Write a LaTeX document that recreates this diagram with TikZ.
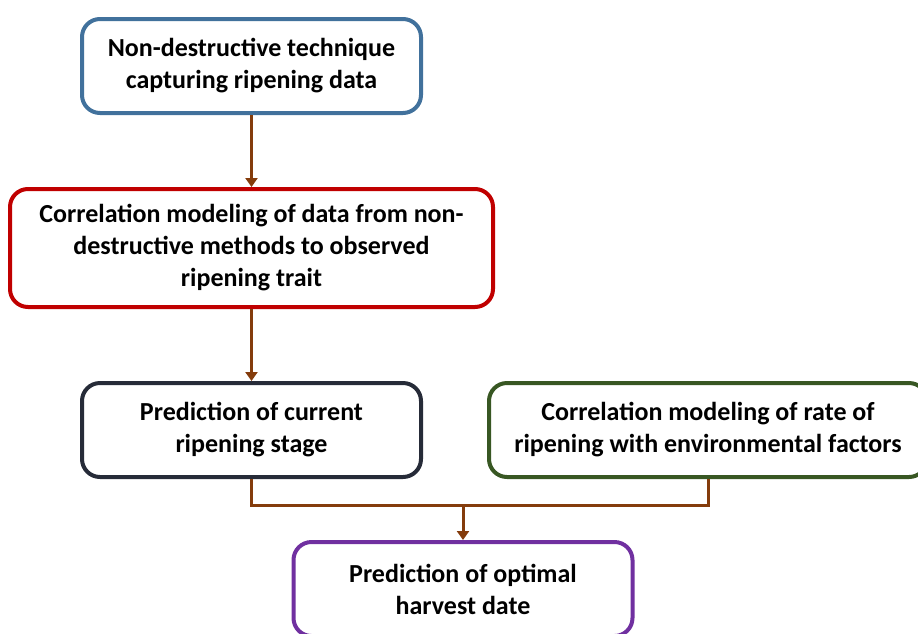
\documentclass[tikz,border=0pt]{standalone}
\usepackage{fontspec}
\setmainfont{Carlito}
\usetikzlibrary{positioning, arrows.meta}
\definecolor{senseblue}{RGB}{65,113,156}
\definecolor{modelred}{RGB}{192,0,0}
\definecolor{stagegray}{RGB}{38,43,56}
\definecolor{envgreen}{RGB}{56,87,35}
\definecolor{harvpurple}{RGB}{112,48,160}
\definecolor{linkbrown}{RGB}{132,60,12}
\tikzset{
    >={Triangle[width=12pt,length=9pt]}, % filled arrow heads
    stage/.style={draw, rounded corners=18pt, line width=4pt, fill=white, align=center,
        inner sep=0pt, minimum width=339pt, minimum height=94pt,
        font=\bfseries\fontsize{26}{32}\selectfont},
    link/.style={draw=linkbrown, line width=3pt}
}

\begin{document}
\begin{tikzpicture}[node distance=72pt]
    \useasboundingbox (0,0) rectangle (918pt,-633pt);
    \node[stage, draw=senseblue] (sense) at (251.5pt,-66pt) {Non-destructive technique\\capturing ripening data};
    \node[stage, draw=modelred, minimum width=483pt, minimum height=118pt, below=of sense] (model) {Correlation modeling of data from non-\\destructive methods to observed\\ripening trait};
    \node[stage, draw=stagegray, below=of model] (current) {Prediction of current\\ripening stage};
    \node[stage, draw=envgreen, minimum width=438pt, right=64pt of current] (env) {Correlation modeling of rate of\\ripening with environmental factors};
    \node[stage, draw=harvpurple] (harvest) at (463pt,-589pt) {Prediction of optimal\\harvest date};

    \coordinate (merge) at (463pt,-505pt);

    \draw[link, ->] (sense) -- (model);
    \draw[link, ->] (model) -- (current);
    \draw[link] (current.south) |- (merge) -| (env.south);
    \draw[link, ->] (merge) -- (harvest);
\end{tikzpicture}
\end{document}
